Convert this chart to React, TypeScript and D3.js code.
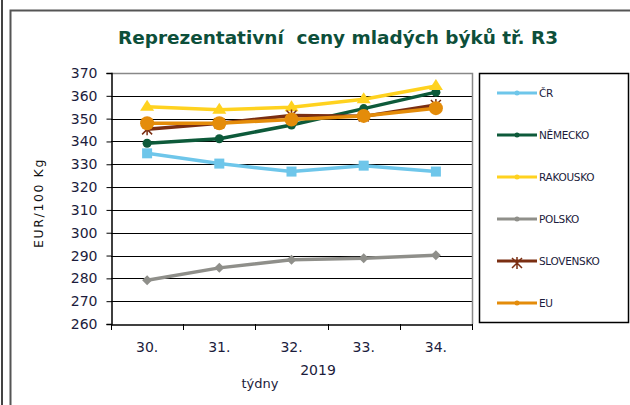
import React, { useEffect, useRef } from 'react';
import * as d3 from 'd3';

const weeks = ['30.', '31.', '32.', '33.', '34.'];
const yTicks = [260, 270, 280, 290, 300, 310, 320, 330, 340, 350, 360, 370];

const cr = [334.8, 330.3, 326.8, 329.4, 326.8];
const nemecko = [339.2, 341.2, 347.2, 354.4, 361.6];
const rakousko = [355.2, 353.9, 355.0, 358.5, 364.3];
const polsko = [279.2, 284.6, 288.2, 288.8, 290.1];
const slovensko = [345.3, 348.0, 351.4, 351.0, 356.0];
const eu = [348.0, 348.0, 349.6, 351.2, 354.6];

const seriesNames = ['ČR', 'NĚMECKO', 'RAKOUSKO', 'POLSKO', 'SLOVENSKO', 'EU'];
const seriesColors = ['#6ec6ea', '#0d5a3a', '#ffd21f', '#8f8f8a', '#7a2e12', '#e48c0a'];
const seriesMarkers = ['square', 'circle', 'triangle', 'diamond', 'star', 'bigcircle'];

interface IPoint {
  week: string;
  value: number;
}

const App = () => {
  const divRef = useRef<HTMLDivElement>(null);

  useEffect(() => {
    drawChart(divRef);
  }, [divRef]);

  return <div id='chart-container' ref={divRef} style={{ position: 'absolute', left: 0, top: 0 }}></div>;
};

function drawMarker(g: any, type: string, x: number, y: number, color: string) {
  if (type === 'square') {
    g.append('rect').attr('x', x - 5).attr('y', y - 5).attr('width', 10).attr('height', 10).attr('fill', color);
  } else if (type === 'circle') {
    g.append('circle').attr('cx', x).attr('cy', y).attr('r', 4.5).attr('fill', color);
  } else if (type === 'bigcircle') {
    g.append('circle').attr('cx', x).attr('cy', y).attr('r', 7).attr('fill', color);
  } else if (type === 'triangle') {
    g.append('path')
      .attr('d', `M${x},${y - 7}L${x + 7},${y + 4}L${x - 7},${y + 4}Z`)
      .attr('fill', color);
  } else if (type === 'diamond') {
    g.append('path')
      .attr('d', `M${x},${y - 5}L${x + 5},${y}L${x},${y + 5}L${x - 5},${y}Z`)
      .attr('fill', color);
  } else if (type === 'star') {
    g.append('path')
      .attr('d', `M${x - 5},${y - 5}L${x + 5},${y + 5}M${x + 5},${y - 5}L${x - 5},${y + 5}M${x},${y - 6}L${x},${y + 6}`)
      .attr('stroke', color)
      .attr('stroke-width', 1.5);
  }
}

function drawChart(divRef: React.RefObject<HTMLDivElement>) {
  const W = 630,
    H = 405;
  const plot = { left: 111, right: 472, top: 73, bottom: 324 };

  d3.select('#chart-container').select('svg').remove();

  const svg = d3
    .select(divRef.current)
    .append('svg')
    .attr('width', W)
    .attr('height', H)
    .style('font-family', 'Verdana, "DejaVu Sans", sans-serif');

  svg.append('rect').attr('width', W).attr('height', H).attr('fill', 'white');

  // outer frame
  svg.append('line').attr('x1', 2).attr('x2', 2).attr('y1', 0).attr('y2', H).attr('stroke', '#444').attr('stroke-width', 2);
  svg
    .append('path')
    .attr('d', `M10.5,${H}L10.5,10.5L${W},10.5`)
    .attr('fill', 'none')
    .attr('stroke', '#555')
    .attr('stroke-width', 2);

  // title
  svg
    .append('text')
    .attr('x', 338)
    .attr('y', 44)
    .attr('text-anchor', 'middle')
    .attr('textLength', 440)
    .attr('lengthAdjust', 'spacingAndGlyphs')
    .style('font-size', '17px')
    .style('font-weight', 'bold')
    .style('white-space', 'pre')
    .attr('fill', '#0d4f3a')
    .text('Reprezentativní  ceny mladých býků tř. R3');

  const x = d3.scaleBand().domain(weeks).range([plot.left, plot.right]);
  const y = d3.scaleLinear().domain([260, 370]).range([plot.bottom, plot.top]);

  // gridlines
  svg
    .append('g')
    .selectAll('line')
    .data(yTicks.slice(1))
    .join('line')
    .attr('x1', plot.left)
    .attr('x2', plot.right)
    .attr('y1', (d) => Math.round(y(d)) + 0.5)
    .attr('y2', (d) => Math.round(y(d)) + 0.5)
    .attr('stroke', '#000')
    .attr('stroke-width', 1);

  // plot border (top/right gray)
  svg
    .append('path')
    .attr('d', `M${plot.left},${plot.top + 0.5}L${plot.right + 0.5},${plot.top + 0.5}L${plot.right + 0.5},${plot.bottom}`)
    .attr('fill', 'none')
    .attr('stroke', '#888')
    .attr('stroke-width', 1.5);

  // Y axis
  const yAxis = svg
    .append('g')
    .attr('transform', `translate(${plot.left + 0.5},0)`)
    .call(d3.axisLeft(y).tickValues(yTicks).tickSize(5).tickPadding(9).tickFormat(d3.format('d')));
  yAxis.select('.domain').attr('stroke', '#000').attr('stroke-width', 1.5);
  yAxis.selectAll('.tick line').attr('stroke', '#000');
  yAxis.selectAll('text').style('font-size', '14px').attr('fill', '#1c1c3c').style('font-family', 'Verdana, "DejaVu Sans", sans-serif');

  // X axis
  const xAxis = svg
    .append('g')
    .attr('transform', `translate(0,${plot.bottom + 0.5})`)
    .call(d3.axisBottom(x).tickSize(0).tickPadding(18));
  xAxis.select('.domain').attr('stroke', '#000').attr('stroke-width', 1.5);
  xAxis.selectAll('text').style('font-size', '14px').attr('fill', '#1c1c3c').style('font-family', 'Verdana, "DejaVu Sans", sans-serif');
  const bounds = [plot.left, ...weeks.map((w) => (x(w) as number) + x.bandwidth())];
  svg
    .append('g')
    .selectAll('line')
    .data(bounds)
    .join('line')
    .attr('x1', (d) => Math.round(d) + 0.5)
    .attr('x2', (d) => Math.round(d) + 0.5)
    .attr('y1', plot.bottom)
    .attr('y2', plot.bottom + 6)
    .attr('stroke', '#000');

  svg
    .append('text')
    .attr('x', 318)
    .attr('y', 375)
    .attr('text-anchor', 'middle')
    .style('font-size', '14px')
    .attr('fill', '#1c1c3c')
    .text('2019');
  svg
    .append('text')
    .attr('x', 260)
    .attr('y', 388)
    .attr('text-anchor', 'middle')
    .style('font-size', '13px')
    .attr('fill', '#1c1c3c')
    .text('týdny');

  svg
    .append('text')
    .attr('transform', 'translate(43,203) rotate(-90)')
    .attr('text-anchor', 'middle')
    .style('font-size', '12.5px')
    .style('letter-spacing', '1.6px')
    .attr('fill', '#111')
    .text('EUR/100 Kg');

  // series
  const allSeries = [cr, nemecko, rakousko, polsko, slovensko, eu];
  const line = d3
    .line<IPoint>()
    .x((d) => (x(d.week) as number) + x.bandwidth() / 2)
    .y((d) => y(d.value));

  allSeries.forEach((vals, i) => {
    const data = vals.map((v, j) => ({ week: weeks[j], value: v }));
    const g = svg.append('g');
    g.append('path')
      .datum(data)
      .attr('d', line)
      .attr('fill', 'none')
      .attr('stroke', seriesColors[i])
      .attr('stroke-width', 3.5)
      .attr('stroke-linejoin', 'round');
    data.forEach((d) => {
      drawMarker(g, seriesMarkers[i], (x(d.week) as number) + x.bandwidth() / 2, y(d.value), seriesColors[i]);
    });
  });

  // legend
  const lg = svg.append('g');
  lg.append('rect')
    .attr('x', 479.5)
    .attr('y', 73.5)
    .attr('width', 149)
    .attr('height', 249)
    .attr('fill', 'white')
    .attr('stroke', '#000')
    .attr('stroke-width', 1.5);
  seriesNames.forEach((name, i) => {
    const ly = 93 + i * 42;
    lg.append('line')
      .attr('x1', 497)
      .attr('x2', 537)
      .attr('y1', ly)
      .attr('y2', ly)
      .attr('stroke', seriesColors[i])
      .attr('stroke-width', 3);
    const m = lg.append('g');
    if (seriesMarkers[i] === 'star') {
      drawMarker(m, 'star', 517, ly + 2, seriesColors[i]);
    } else {
      m.append('circle').attr('cx', 517).attr('cy', ly).attr('r', 2.5).attr('fill', seriesColors[i]);
    }
    lg.append('text')
      .attr('x', 539)
      .attr('y', ly + 4)
      .style('font-size', '10.5px')
      .style('letter-spacing', '-0.3px')
      .attr('fill', '#1c1c3c')
      .text(name);
  });
}

export default App;
